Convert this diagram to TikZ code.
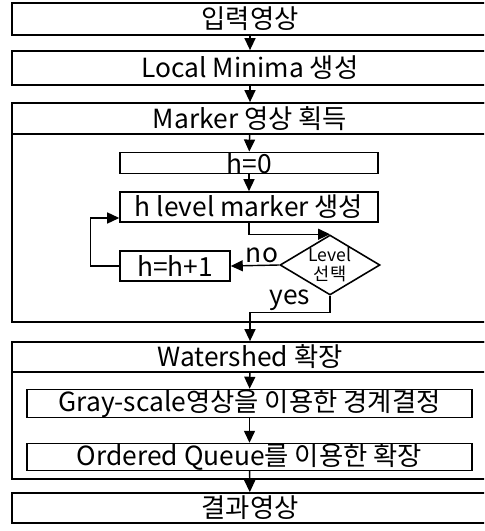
\documentclass[tikz,border=0pt]{standalone}
\usepackage{fontspec}
\setmainfont{Noto Sans CJK KR}
\usetikzlibrary{shapes.geometric,arrows.meta}

\begin{document}
\begin{tikzpicture}[x=0.02cm,y=-0.02cm,
  box/.style={rectangle,draw=black,line width=1pt,inner sep=0pt,minimum width=9.52cm,font=\fontsize{15}{15}\selectfont},
  sub/.style={rectangle,draw=black,line width=0.9pt,inner sep=0pt,font=\fontsize{15}{15}\selectfont},
  frame/.style={draw=black,line width=1pt},
  arr/.style={-{Triangle[length=0.24cm,width=0.22cm]},line width=0.8pt}]
\useasboundingbox (0,0) rectangle (484,531);
\clip (0,0) rectangle (484,531);
% x, y in pixels from top left
\node[box,minimum height=0.64cm] (in) at (250,19) {입력영상};
\node[box,minimum height=0.68cm] (lm) at (250,68) {Local Minima 생성};
\draw[frame] (12,103) rectangle (488,322);
\node[box,minimum height=0.62cm] (mk) at (250,118.5) {Marker 영상 획득};
\node[sub,minimum width=5.16cm,minimum height=0.4cm] (h0) at (249,163) {h=0};
\node[sub,minimum width=5.16cm,minimum height=0.6cm] (hlev) at (249,207) {h level marker 생성};
\node[sub,minimum width=2.2cm,minimum height=0.6cm] (hinc) at (175,266) {h=h+1};
\node[diamond,draw=black,line width=0.9pt,inner sep=-1pt,aspect=1.67,minimum width=2cm,minimum height=1.2cm,
  align=center,font=\fontsize{10}{11}\selectfont] (lv) at (330,265) {Level\\선택};
\draw[frame] (12,342) rectangle (488,479);
\node[box,minimum height=0.6cm] (ws) at (250,357) {Watershed 확장};
\node[sub,minimum width=8.9cm,minimum height=0.46cm] (gr) at (249.5,403.5) {Gray-scale영상을 이용한 경계결정};
\node[sub,minimum width=8.9cm,minimum height=0.52cm] (oq) at (249.5,457) {Ordered Queue를 이용한 확장};
\node[box,minimum height=0.6cm] (res) at (250,508) {결과영상};
\node[font=\fontsize{15}{15}\selectfont] (no) at (262,255) {no};
\node[font=\fontsize{15}{15}\selectfont] (yes) at (290,300) {yes};

\draw[arr] (in) -- (lm);
\draw[arr] (lm) -- (mk);
\draw[arr] (mk) -- (h0);
\draw[arr] (h0) -- (hlev);
\draw[arr] (hlev.south) |- (lv.north);
\draw[arr] (lv.west) -- (hinc.east);
\draw[arr] (hinc.west) -- ++(-29,0) |- ([yshift=-0.22cm]hlev.west);
\draw[arr] (lv.south) -- ++(0,17) -| (ws.north);
\draw[arr] (ws) -- (gr);
\draw[arr] (gr) -- (oq);
\draw[arr] (oq) -- (res);
\end{tikzpicture}
\end{document}
